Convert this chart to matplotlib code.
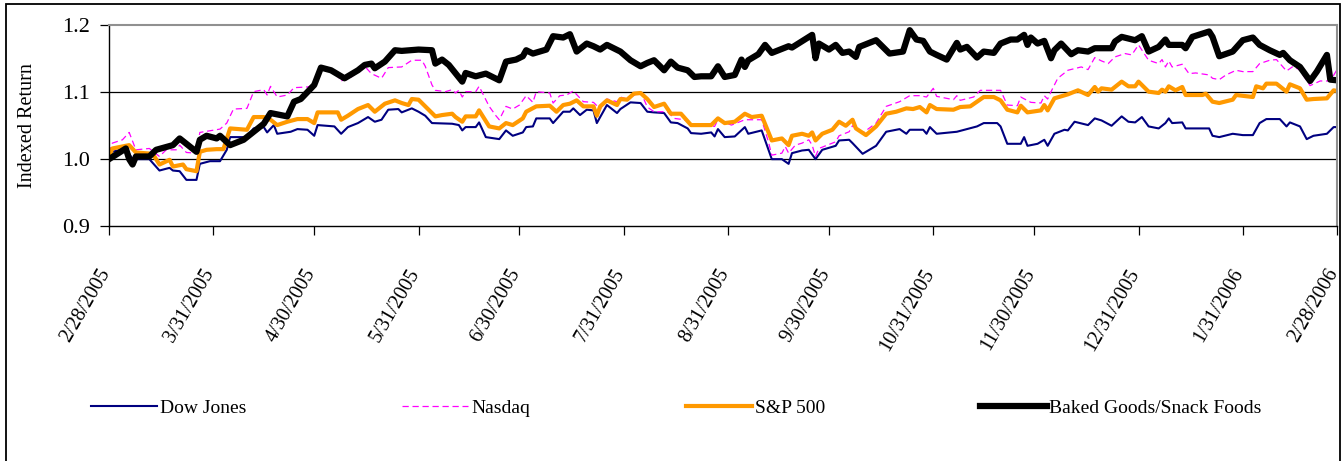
"""
Indexed return of the baked goods / snack foods group against the three
major US indices, 2/28/2005 - 2/28/2006 (start = 1.0).
Values were read off the original Excel chart, so they are approximate.
"""

import pandas as pd

import matplotlib
matplotlib.use("Agg")
import matplotlib.pyplot as plt
from matplotlib.patches import Rectangle
from matplotlib.transforms import ScaledTranslation

START = pd.Timestamp("2005-02-28")
END = pd.Timestamp("2006-02-28")

# days after START, and index level
dow_days = [0, 1, 5, 7, 12, 15, 18, 19, 21, 23, 26, 27, 30, 33, 35, 36, 41, 43, 46, 47,
            49, 50, 54, 56, 59, 61, 62, 67, 69, 71, 74, 77, 79, 81, 83, 86,
            87, 90, 92, 94, 96, 102, 104, 105, 106, 109, 110, 112, 116, 118, 120, 123,
            124, 126, 127, 131, 132, 135, 137, 138, 140, 142, 144, 145, 148, 151, 152,
            155, 158, 160, 162, 165, 167, 169, 172, 173,
            176, 179, 180, 181, 183, 186, 189, 190, 194, 197, 200, 202, 203, 206, 208,
            210, 212, 216, 217, 220, 221, 224, 228, 231, 233, 235, 237, 238, 242, 243,
            244, 246, 252, 255, 258, 260, 264,
            265, 267, 271, 272, 273, 276, 278, 279, 281, 284, 285, 287, 291, 293, 295,
            298, 301, 303, 305, 307, 309, 312, 314, 315, 316, 319, 320, 327, 328, 330,
            334, 337, 340, 342, 344, 348, 350, 351, 354, 356, 358, 362, 364, 365]
dow_vals = [1.001, 1.011, 1.016, 1.000, 1.000, 0.983, 0.987, 0.983, 0.982, 0.969, 0.969,
            0.993, 0.997, 0.997, 1.014, 1.033, 1.033, 1.046, 1.048, 1.040,
            1.051, 1.038, 1.041, 1.045, 1.044, 1.035, 1.051, 1.049, 1.038, 1.048, 1.054,
            1.063, 1.056, 1.059, 1.074, 1.075,
            1.070, 1.076, 1.071, 1.065, 1.054, 1.053, 1.051, 1.043, 1.048, 1.048, 1.055,
            1.033, 1.030, 1.043, 1.035, 1.040,
            1.048, 1.049, 1.061, 1.061, 1.054, 1.071, 1.071, 1.076, 1.066, 1.074, 1.073,
            1.054, 1.081, 1.069, 1.075,
            1.085, 1.084, 1.071, 1.070, 1.069, 1.055, 1.054, 1.046, 1.039,
            1.038, 1.040, 1.034, 1.045, 1.033, 1.034, 1.048, 1.038, 1.043, 1.000, 1.000,
            0.993, 1.009, 1.013, 1.014,
            1.000, 1.014, 1.020, 1.028, 1.029, 1.024, 1.008, 1.020, 1.041, 1.043, 1.045,
            1.038, 1.044, 1.044, 1.038,
            1.048, 1.038, 1.041, 1.045, 1.049, 1.054, 1.054,
            1.049, 1.023, 1.023, 1.033, 1.020, 1.023, 1.029, 1.020, 1.038, 1.044, 1.043,
            1.056, 1.051, 1.061, 1.058,
            1.050, 1.064, 1.056, 1.055, 1.063, 1.049, 1.046, 1.054, 1.061, 1.054, 1.055,
            1.046, 1.046, 1.035, 1.033,
            1.038, 1.036, 1.036, 1.054, 1.060, 1.060, 1.049, 1.055, 1.049, 1.030, 1.035,
            1.038, 1.048, 1.048]

nasdaq_days = [0, 1, 4, 6, 8, 12, 15, 17, 20, 21, 23, 26, 27, 33, 35, 37, 41, 43, 46, 47,
               48, 49, 50, 53, 55, 59, 61, 63, 67, 69, 72, 76, 78, 81, 83,
               87, 90, 93, 94, 96, 97, 100, 102, 103, 104, 105, 106, 109, 110, 112, 113,
               115, 116, 118, 120, 122, 124, 126, 127, 131, 132, 134, 136, 138, 141, 144,
               146, 148, 151, 152, 154, 158, 160, 162, 166, 168, 171, 174,
               176, 180, 181, 185, 189, 194, 196, 197, 200, 201, 202, 204, 206, 208, 209,
               210, 211, 216, 217, 220, 221, 224, 228, 231, 235, 238, 241, 243, 245, 246,
               251, 252, 253, 257, 259, 263, 265,
               267, 270, 271, 274, 277, 278, 279, 280, 282, 285, 289, 291, 293, 295, 297,
               299, 302, 304, 306, 309, 312, 313, 314, 315, 316, 319, 321, 323, 327, 328,
               330, 332, 335, 337, 340, 342, 345, 347, 350, 352, 354, 357, 360, 363, 365]
nasdaq_vals = [1.009, 1.024, 1.029, 1.040, 1.014, 1.016, 1.004, 1.014, 1.014, 1.021,
               1.010, 1.009, 1.040, 1.045, 1.054, 1.075, 1.076, 1.101, 1.104, 1.096,
               1.109, 1.101, 1.093, 1.096, 1.107, 1.108, 1.111, 1.133, 1.131, 1.117, 1.123,
               1.139, 1.128, 1.121, 1.137,
               1.138, 1.148, 1.148, 1.139, 1.111, 1.103, 1.101, 1.104, 1.099, 1.103, 1.093,
               1.101, 1.101, 1.109, 1.089, 1.079,
               1.065, 1.059, 1.079, 1.075, 1.081, 1.095, 1.085, 1.101, 1.099, 1.084, 1.095,
               1.096, 1.102, 1.086, 1.085,
               1.075, 1.090, 1.086, 1.093, 1.090, 1.101, 1.078, 1.071, 1.071, 1.061, 1.059,
               1.051,
               1.051, 1.049, 1.059, 1.051, 1.059, 1.059, 1.026, 1.006, 1.009, 1.019, 1.009,
               1.021, 1.024, 1.029, 1.021,
               1.004, 1.016, 1.026, 1.035, 1.041, 1.050, 1.039, 1.054, 1.079, 1.086, 1.095,
               1.095, 1.093, 1.106, 1.094,
               1.089, 1.095, 1.088, 1.093, 1.103, 1.103, 1.103,
               1.081, 1.080, 1.093, 1.085, 1.084, 1.095, 1.090, 1.101, 1.121, 1.133, 1.138,
               1.134, 1.152, 1.147, 1.143,
               1.153, 1.158, 1.156, 1.171, 1.148, 1.143, 1.149, 1.138, 1.147, 1.138, 1.142,
               1.128, 1.129, 1.126, 1.121,
               1.119, 1.126, 1.133, 1.131, 1.131, 1.143, 1.148, 1.149, 1.132, 1.139, 1.133,
               1.110, 1.117, 1.117, 1.134]

sp500_days = [0, 1, 6, 8, 13, 15, 18, 19, 22, 23, 26, 27, 29, 32, 34, 36, 41, 43, 46, 48,
              50, 53, 56, 59, 61, 62, 68, 69, 71, 74, 77, 79, 82, 85,
              87, 89, 90, 92, 94, 97, 99, 102, 103, 105, 106, 109, 110, 113, 116, 118,
              120, 123, 124, 127, 131, 133, 135, 137, 139, 141, 144, 145, 146, 148, 151,
              152, 154, 156, 158, 160, 162, 165, 167, 170, 173,
              176, 179, 181, 183, 186, 189, 191, 194, 197, 200, 202, 203, 206, 208, 209,
              210, 212, 215, 217, 219, 221, 222, 225, 228, 231, 234, 237, 239, 241, 243,
              244, 246, 251, 253, 256, 260, 263, 265,
              267, 270, 271, 273, 277, 278, 279, 281, 285, 288, 291, 293, 294, 295, 298,
              301, 303, 305, 306, 309, 312, 313, 314, 315, 317, 319, 320, 325, 326, 328,
              330, 334, 335, 340, 341, 343, 344, 347, 350, 351, 354, 356, 358, 362, 364,
              365]
sp500_vals = [1.004, 1.016, 1.021, 1.010, 1.008, 0.992, 0.999, 0.989, 0.992, 0.985, 0.982,
              1.011, 1.014, 1.015, 1.015, 1.046, 1.044, 1.063, 1.063, 1.059,
              1.051, 1.056, 1.060, 1.060, 1.054, 1.070, 1.070, 1.059, 1.065, 1.075, 1.081,
              1.071, 1.083, 1.088,
              1.084, 1.081, 1.090, 1.089, 1.079, 1.064, 1.066, 1.068, 1.063, 1.056, 1.064,
              1.064, 1.073, 1.049, 1.046, 1.054,
              1.051, 1.061, 1.071, 1.079, 1.080, 1.071, 1.081, 1.083, 1.088, 1.079, 1.079,
              1.065, 1.079, 1.088, 1.081,
              1.090, 1.089, 1.098, 1.099, 1.090, 1.078, 1.083, 1.068, 1.068, 1.051,
              1.051, 1.051, 1.061, 1.054, 1.056, 1.068, 1.063, 1.065, 1.028, 1.031, 1.021,
              1.035, 1.038, 1.035, 1.040,
              1.028, 1.038, 1.044, 1.056, 1.050, 1.059, 1.046, 1.036, 1.049, 1.068, 1.071,
              1.076, 1.075, 1.078, 1.070,
              1.081, 1.075, 1.074, 1.078, 1.079, 1.093, 1.093, 1.088,
              1.074, 1.070, 1.080, 1.070, 1.073, 1.081, 1.073, 1.091, 1.097, 1.103, 1.096,
              1.108, 1.101, 1.106, 1.104,
              1.116, 1.109, 1.109, 1.116, 1.101, 1.099, 1.104, 1.101, 1.109, 1.103, 1.108,
              1.096, 1.096, 1.098, 1.086,
              1.084, 1.089, 1.096, 1.093, 1.109, 1.106, 1.113, 1.113, 1.101, 1.112, 1.106,
              1.089, 1.090, 1.091, 1.103,
              1.102]

baked_days = [0, 5, 6, 7, 8, 12, 14, 19, 21, 26, 27, 29, 32, 33, 36, 40, 43, 46, 48, 53,
              55, 57, 61, 63, 66, 70, 74, 76, 78, 79, 82, 85,
              87, 92, 96, 97, 99, 101, 105, 106, 109, 112, 116, 118, 121, 123, 124, 126,
              130, 132, 135, 137, 139, 142, 144, 146, 148, 152, 155, 158, 160, 162, 165,
              167, 169, 172, 174,
              176, 179, 181, 183, 186, 188, 189, 190, 193, 195, 197, 202, 203, 209, 210,
              211, 214, 216, 218, 220, 222, 223, 228, 232, 236, 238, 240, 242, 244, 246,
              249, 252, 253, 255, 258, 260, 263, 265,
              268, 270, 272, 273, 274, 276, 278, 280, 281, 283, 286, 288, 291, 293, 298,
              299, 301, 305, 307, 309, 312, 314, 315, 319, 320, 322, 327, 328, 330, 334,
              337, 340, 342, 345, 348, 349, 351, 354, 357, 359, 362, 363, 365]
baked_vals = [1.000, 1.016, 1.000, 0.992, 1.004, 1.004, 1.014, 1.021, 1.031, 1.011, 1.029,
              1.035, 1.031, 1.035, 1.021, 1.029, 1.041, 1.053, 1.069, 1.064,
              1.086, 1.090, 1.111, 1.137, 1.133, 1.121, 1.133, 1.141, 1.143, 1.136, 1.146,
              1.163,
              1.162, 1.164, 1.163, 1.143, 1.149, 1.141, 1.116, 1.129, 1.124, 1.128, 1.118,
              1.146, 1.149, 1.154, 1.163, 1.158,
              1.164, 1.184, 1.182, 1.187, 1.161, 1.173, 1.169, 1.164, 1.171, 1.161, 1.148,
              1.139, 1.144, 1.148, 1.133,
              1.146, 1.137, 1.133, 1.123,
              1.124, 1.124, 1.139, 1.123, 1.126, 1.149, 1.138, 1.148, 1.157, 1.171, 1.159,
              1.169, 1.167, 1.186, 1.151,
              1.173, 1.164, 1.171, 1.159, 1.161, 1.153, 1.168, 1.178, 1.158, 1.161, 1.193,
              1.179, 1.177, 1.161, 1.156,
              1.149, 1.174, 1.164, 1.168, 1.152, 1.161, 1.159, 1.173,
              1.179, 1.179, 1.186, 1.171, 1.182, 1.173, 1.177, 1.151, 1.163, 1.173, 1.157,
              1.163, 1.161, 1.166, 1.166,
              1.176, 1.183, 1.178, 1.184, 1.161, 1.168, 1.179, 1.171, 1.171, 1.166, 1.183,
              1.191, 1.183, 1.154, 1.161,
              1.178, 1.182, 1.171, 1.163, 1.156, 1.159, 1.148, 1.138, 1.117, 1.131, 1.156,
              1.119, 1.118]

tick_dates = ["2005-02-28", "2005-03-31", "2005-04-30", "2005-05-31", "2005-06-30",
              "2005-07-31", "2005-08-31", "2005-09-30", "2005-10-31", "2005-11-30",
              "2005-12-31", "2006-01-31", "2006-02-28"]
y_ticks = [0.9, 1.0, 1.1, 1.2]

SERIES = [
    ("Dow Jones", dow_days, dow_vals, dict(color="#000080", lw=1.5)),
    ("Nasdaq", nasdaq_days, nasdaq_vals, dict(color="#FF00FF", lw=0.9, ls=(0, (5, 3)))),
    ("S&P 500", sp500_days, sp500_vals, dict(color="#FF9900", lw=3.0)),
    ("Baked Goods/Snack Foods", baked_days, baked_vals, dict(color="black", lw=4.5)),
]

plt.rcParams["font.family"] = ["Liberation Serif", "DejaVu Serif"]


def main():
    fig = plt.figure(figsize=(13.43, 4.61), dpi=100)
    ax = fig.add_axes([109 / 1343, 1 - 226 / 461, (1337 - 109) / 1343, (226 - 25.5) / 461])

    for label, days, vals, style in SERIES:
        dates = START + pd.to_timedelta(days, unit="D")
        ax.plot(dates, vals, label=label, solid_joinstyle="round", **style)

    ax.set_xlim(START, END)
    ax.set_ylim(0.9, 1.2)
    for y in (1.0, 1.1):
        ax.axhline(y, color="black", lw=0.9, zorder=0)

    ax.tick_params(axis="x", direction="out", length=6.5, width=0.9, pad=3)
    ax.tick_params(axis="y", direction="out", length=6.5, width=0.9, pad=7)

    ticks = pd.to_datetime(tick_dates)
    ax.set_xticks(ticks)
    ax.set_xticklabels([f"{d.month}/{d.day}/{d.year}" for d in ticks],
                       rotation=60, ha="right", va="top", fontsize=14.5)
    # Excel leaves a wide gap under the axis; push the labels down a bit
    shift = ScaledTranslation(5 / 100, -26 / 100, fig.dpi_scale_trans)
    for t in ax.get_xticklabels():
        t.set_transform(t.get_transform() + shift)
    ax.set_yticks(y_ticks)
    ax.set_yticklabels([f"{v:.1f}" for v in y_ticks], fontsize=16)
    ax.set_ylabel("Indexed Return", fontsize=14.5, labelpad=18)

    ax.spines["top"].set_color("#909090")
    ax.spines["right"].set_color("#909090")
    for side in ("top", "right"):
        ax.spines[side].set_linewidth(1.5)
    for side in ("left", "bottom"):
        ax.spines[side].set_linewidth(1.0)

    fig.legend(loc="center", bbox_to_anchor=(676.5 / 1343, 1 - 408 / 461), ncol=4,
               frameon=False, fontsize=14, handlelength=3.4, handletextpad=0.15,
               columnspacing=8.0, borderpad=0)

    # chart area frame (its bottom edge is cut off in the original)
    fig.patches.append(Rectangle((6 / 1343, -0.05), (1340 - 6) / 1343, 1.05 - 4 / 461,
                                 transform=fig.transFigure, fill=False,
                                 edgecolor="black", lw=1.3))

    fig.savefig("out.png", dpi=100)
    plt.close(fig)


if __name__ == "__main__":
    main()
